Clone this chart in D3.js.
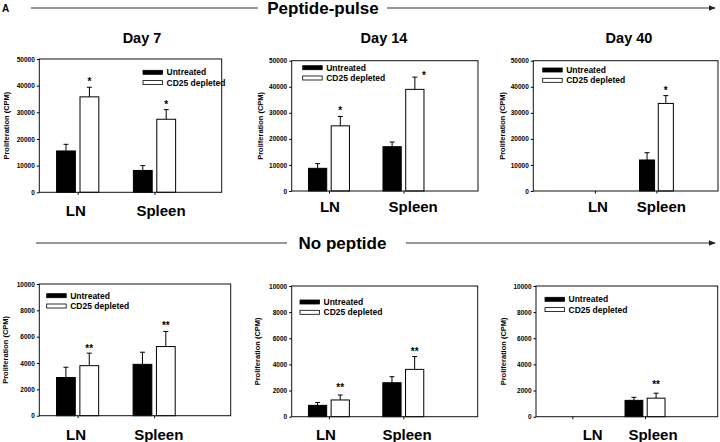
<!DOCTYPE html>
<html><head><meta charset="utf-8">
<script src="https://cdn.jsdelivr.net/npm/d3@7"></script>
<style>
html,body{margin:0;padding:0;background:#fff;}
svg{display:block;font-family:"Liberation Sans",Arial,Helvetica,sans-serif;font-weight:bold;}
</style></head>
<body>
<script>
// ---------- data ----------
const categories = ["LN", "Spleen"];
const seriesNames = ["Untreated", "CD25 depleted"];
const dayTitles = ["Day 7", "Day 14", "Day 40"];
const sectionTitles = ["Peptide-pulse", "No peptide"];
const panelLetter = "A";
const yAxisTitle = "Proliferation (CPM)";
const pulseTicks = [0, 10000, 20000, 30000, 40000, 50000];
const noPepTicks = [0, 2000, 4000, 6000, 8000, 10000];

// Peptide-pulse (CPM), [LN, Spleen]
const pulseDay7Untreated = [15500, 8200];
const pulseDay7UntreatedErr = [2500, 1800];
const pulseDay7Depleted = [35800, 27400];
const pulseDay7DepletedErr = [3600, 3600];
const pulseDay14Untreated = [8700, 17000];
const pulseDay14UntreatedErr = [1800, 1800];
const pulseDay14Depleted = [25000, 39000];
const pulseDay14DepletedErr = [3600, 4700];
const pulseDay40Untreated = [null, 11900];
const pulseDay40UntreatedErr = [null, 2800];
const pulseDay40Depleted = [null, 33600];
const pulseDay40DepletedErr = [null, 3000];

// No peptide (CPM)
const noPepDay7Untreated = [2900, 3900];
const noPepDay7UntreatedErr = [780, 920];
const noPepDay7Depleted = [3800, 5250];
const noPepDay7DepletedErr = [950, 1150];
const noPepDay14Untreated = [870, 2600];
const noPepDay14UntreatedErr = [220, 460];
const noPepDay14Depleted = [1280, 3620];
const noPepDay14DepletedErr = [380, 980];
const noPepDay40Untreated = [null, 1250];
const noPepDay40UntreatedErr = [null, 230];
const noPepDay40Depleted = [null, 1420];
const noPepDay40DepletedErr = [null, 380];

const pulseMark = ["", "*"];
const noPepMark = ["", "**"];

// ---------- layout ----------
const W = 720, H = 442;
const svg = d3.select("body").append("svg").attr("width", W).attr("height", H);

const panels = [
  {title: dayTitles[0], titleX: 142, left: 39.3, right: 221.7, top: 59, bottom: 192.3, xDom: [0.5, 2.875], yMax: 50000, ticks: pulseTicks,
   u: pulseDay7Untreated, ue: pulseDay7UntreatedErr, d: pulseDay7Depleted, de: pulseDay7DepletedErr, marks: pulseMark,
   leg: [143, 72.3], yTitleX: 6, catX: [0.975, 2.085], catY: 216, markShift: [[0, 0], [0, 0]]},
  {title: dayTitles[1], titleX: 384, left: 291.7, right: 478, top: 60.7, bottom: 191, xDom: [0.5, 3], yMax: 50000, ticks: pulseTicks,
   u: pulseDay14Untreated, ue: pulseDay14UntreatedErr, d: pulseDay14Depleted, de: pulseDay14DepletedErr, marks: pulseMark,
   leg: [302.7, 67.7], yTitleX: 260, catX: [1.013, 2.13], catY: 212, markShift: [[0, 0], [9, 4]]},
  {title: dayTitles[2], titleX: 629, left: 533.3, right: 718, top: 60.7, bottom: 191, xDom: [0, 3], yMax: 50000, ticks: pulseTicks,
   u: pulseDay40Untreated, ue: pulseDay40UntreatedErr, d: pulseDay40Depleted, de: pulseDay40DepletedErr, marks: pulseMark,
   leg: [542.7, 70], yTitleX: 502, catX: [1.05, 2.08], catY: 212, markShift: [[0, 0], [0, 0]]},
  {title: null, left: 39.3, right: 230.7, top: 284, bottom: 415.7, xDom: [0.5, 3], yMax: 10000, ticks: noPepTicks,
   u: noPepDay7Untreated, ue: noPepDay7UntreatedErr, d: noPepDay7Depleted, de: noPepDay7DepletedErr, marks: noPepMark,
   leg: [46.7, 295.7], yTitleX: 5.5, catX: [0.98, 2.06], catY: 440, markShift: [[0, 1], [0, 0]]},
  {title: null, left: 291.7, right: 477.7, top: 286, bottom: 416.7, xDom: [0.5, 3], yMax: 10000, ticks: noPepTicks,
   u: noPepDay14Untreated, ue: noPepDay14UntreatedErr, d: noPepDay14Depleted, de: noPepDay14DepletedErr, marks: noPepMark,
   leg: [300, 302], yTitleX: 257, catX: [0.96, 2.05], catY: 440, markShift: [[0, -2], [0, 0]]},
  {title: null, left: 536, right: 717.7, top: 286, bottom: 416.7, xDom: [0.5, 3], yMax: 10000, ticks: noPepTicks,
   u: noPepDay40Untreated, ue: noPepDay40UntreatedErr, d: noPepDay40Depleted, de: noPepDay40DepletedErr, marks: noPepMark,
   leg: [545, 299.3], yTitleX: 503.5, catX: [1.28, 2.11], catY: 440, markShift: [[0, 0], [0, -3]]}
];

const barW = 0.245, barGap = 0.06;

// ---------- headers ----------
svg.append("text").attr("x", 2).attr("y", 12).attr("font-size", 10).text(panelLetter);

const defs = svg.append("defs");
defs.append("marker").attr("id", "arr").attr("viewBox", "0 0 10 10").attr("refX", 9).attr("refY", 5)
  .attr("markerWidth", 6).attr("markerHeight", 6).attr("orient", "auto")
  .append("path").attr("d", "M0,1 L10,5 L0,9 Z").attr("fill", "#222");

function header(txt, cx, y, l1, l2, r1, r2) {
  svg.append("line").attr("x1", l1).attr("x2", l2).attr("y1", y).attr("y2", y).attr("stroke", "#333").attr("stroke-width", 1.2);
  svg.append("line").attr("x1", r1).attr("x2", r2).attr("y1", y).attr("y2", y).attr("stroke", "#333").attr("stroke-width", 1.2)
    .attr("marker-end", "url(#arr)");
  svg.append("text").attr("x", cx).attr("y", y + 6).attr("text-anchor", "middle").attr("font-size", 17).text(txt);
}
header(sectionTitles[0], 323, 8, 31, 258, 387, 715);
header(sectionTitles[1], 342.5, 243, 36, 287, 406, 715);

// ---------- panels ----------
panels.forEach(p => {
  const g = svg.append("g");
  const x = d3.scaleLinear().domain(p.xDom).range([p.left, p.right]);
  const y = d3.scaleLinear().domain([0, p.yMax]).range([p.bottom, p.top]);
  const px = v => x(v) - x(0);

  if (p.title) {
    g.append("text").attr("x", p.titleX).attr("y", 43).attr("text-anchor", "middle").attr("font-size", 14.5).text(p.title);
  }

  // bars
  const series = [
    {vals: p.u, errs: p.ue, fill: "#000", off: -(barGap / 2 + barW / 2), mark: p.marks[0]},
    {vals: p.d, errs: p.de, fill: "#fff", off: (barGap / 2 + barW / 2), mark: p.marks[1]}
  ];
  series.forEach(s => {
    categories.forEach((c, i) => {
      const v = s.vals[i];
      if (v == null) return;
      const cx = x(i + 1 + s.off);
      const e = s.errs[i];
      g.append("line").attr("x1", cx).attr("x2", cx).attr("y1", y(v)).attr("y2", y(v + e)).attr("stroke", "#000").attr("stroke-width", 1);
      g.append("line").attr("x1", cx - 2.5).attr("x2", cx + 2.5).attr("y1", y(v + e)).attr("y2", y(v + e)).attr("stroke", "#000").attr("stroke-width", 1);
      g.append("rect").attr("x", cx - px(barW) / 2).attr("y", y(v)).attr("width", px(barW)).attr("height", y(0) - y(v))
        .attr("fill", s.fill).attr("stroke", "#000").attr("stroke-width", 1);
      if (s.mark) {
        const sh = p.markShift[i];
        g.append("text").attr("x", cx + sh[0]).attr("y", y(v + e) - 2 + sh[1]).attr("text-anchor", "middle").attr("font-size", 10).text(s.mark);
      }
    });
  });

  // frame
  g.append("rect").attr("x", p.left).attr("y", p.top).attr("width", p.right - p.left).attr("height", p.bottom - p.top)
    .attr("fill", "none").attr("stroke", "#111").attr("stroke-width", 1);

  // axes
  const ya = g.append("g").attr("transform", `translate(${p.left},0)`)
    .call(d3.axisLeft(y).tickValues(p.ticks).tickSize(2.5).tickPadding(2).tickFormat(d3.format("d")));
  ya.select(".domain").remove();
  ya.selectAll("text").attr("font-size", 6.5).attr("font-family", "Liberation Sans, Arial, sans-serif").attr("font-weight", "bold").attr("fill", "#000");
  const xa = g.append("g").attr("transform", `translate(0,${p.bottom})`)
    .call(d3.axisBottom(x).tickValues([1, 2]).tickSize(2.5).tickFormat(""));
  xa.select(".domain").remove();

  // category labels
  categories.forEach((c, i) => {
    g.append("text").attr("x", x(p.catX[i])).attr("y", p.catY).attr("text-anchor", "middle").attr("font-size", 15).text(c);
  });

  // y title
  g.append("text").attr("transform", `translate(${p.yTitleX + 2.5},${(p.top + p.bottom) / 2}) rotate(-90)`)
    .attr("text-anchor", "middle").attr("font-size", 7.5).text(yAxisTitle);

  // legend
  const fills = ["#000", "#fff"];
  seriesNames.forEach((n, k) => {
    const ly = p.leg[1] + k * 10.3;
    g.append("rect").attr("x", p.leg[0]).attr("y", ly - 2).attr("width", 19.5).attr("height", 4)
      .attr("fill", fills[k]).attr("stroke", "#000").attr("stroke-width", 0.8);
    g.append("text").attr("x", p.leg[0] + 23.5).attr("y", ly + 3).attr("font-size", 8.5).text(n);
  });
});
</script>
</body></html>
